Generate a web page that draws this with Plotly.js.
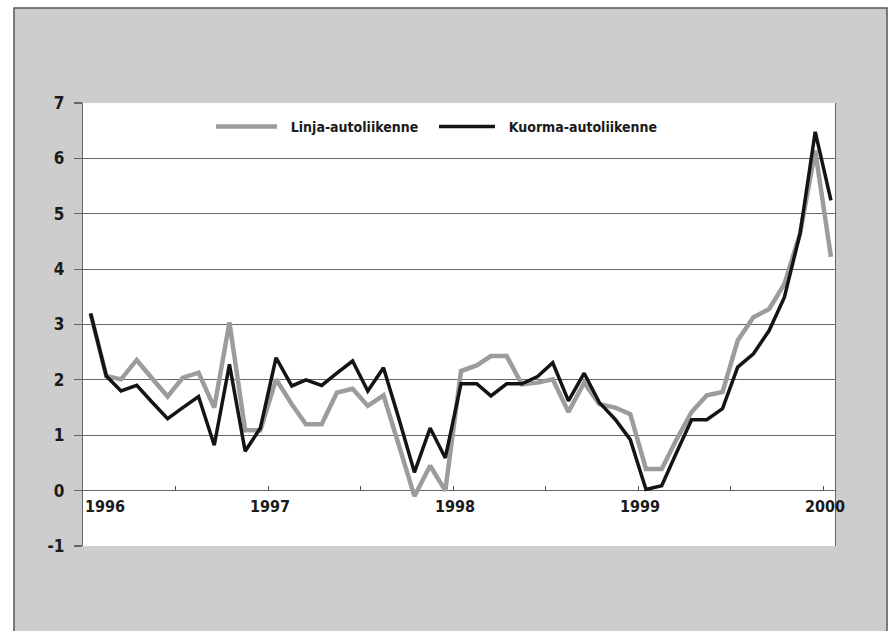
<!DOCTYPE html>
<html>
<head>
<meta charset="utf-8">
<script src="https://cdn.plot.ly/plotly-3.0.1.min.js"></script>
<style>html,body{margin:0;padding:0;background:#fff;}#chart{width:891px;height:631px;}</style>
</head>
<body>
<div id="chart"></div>
<script>
// Monthly data, Jan 1996 .. Jan 2000
var startYear = 1996;
var monthCount = 49;
var linjaName = "Linja-autoliikenne";
var kuormaName = "Kuorma-autoliikenne";
var linja = [3.2, 2.07, 2.01, 2.36, 2.03, 1.70, 2.04, 2.13, 1.50, 3.04, 1.09, 1.09,
             2.01, 1.56, 1.20, 1.20, 1.77, 1.84, 1.53, 1.72, 0.80, -0.10, 0.45, 0.0,
             2.16, 2.26, 2.43, 2.43, 1.92, 1.95, 2.01, 1.42, 1.95, 1.56, 1.50, 1.38,
             0.39, 0.39, 0.90, 1.42, 1.72, 1.78, 2.71, 3.13, 3.28, 3.73, 4.64, 6.14,
             4.22];
var kuorma = [3.2, 2.07, 1.8, 1.9, 1.6, 1.3, 1.5, 1.7, 0.82, 2.28, 0.71, 1.13,
              2.4, 1.89, 2.0, 1.9, 2.12, 2.34, 1.8, 2.22, 1.28, 0.33, 1.13, 0.59,
              1.93, 1.93, 1.71, 1.93, 1.93, 2.06, 2.31, 1.62, 2.12, 1.59, 1.29, 0.92,
              0.02, 0.09, 0.66, 1.28, 1.28, 1.48, 2.23, 2.47, 2.89, 3.49, 4.64, 6.48,
              5.24];
var yearLabels = ["1996", "1997", "1998", "1999", "2000"];
var yTickVals = [-1, 0, 1, 2, 3, 4, 5, 6, 7];
var yTickText = ["-1", "0", "1", "2", "3", "4", "5", "6", "7"];
var halfYearTicks = ["1996-07-01", "1997-01-01", "1997-07-01", "1998-01-01", "1998-07-01",
                     "1999-01-01", "1999-07-01", "2000-01-01"];

function pad(n){ return (n < 10 ? "0" : "") + n; }
var months = [];
for (var i = 0; i < monthCount; i++) {
  var y = startYear + Math.floor(i / 12);
  var m = (i % 12) + 1;
  months.push(y + "-" + pad(m) + "-16");
}

var FONT = "DejaVu Sans Condensed, Liberation Sans Narrow, sans-serif";
var NB = "\u00a0\u00a0";

var traces = [
  {x: months, y: linja, name: NB + linjaName, type: "scatter", mode: "lines",
   legend: "legend",
   line: {color: "#9c9c9c", width: 4.5}},
  {x: months, y: kuorma, name: NB + kuormaName, type: "scatter", mode: "lines",
   legend: "legend2",
   line: {color: "#141414", width: 3.5}}
];

var annotations = yearLabels.map(function (t, k) {
  return {
    x: t + "-01-01", y: 0, xref: "x", yref: "y",
    text: t, showarrow: false,
    xanchor: k === 0 ? "left" : "center", yanchor: "top",
    xshift: k === 0 ? 0 : 2, yshift: -4,
    font: {family: FONT, size: 16, color: "#1a1a1a", weight: "bold"}
  };
});

var L = 83, R = 835, T = 103, B = 546, W = 891, H = 631;
var pw = R - L, ph = B - T;

var legendFont = {family: FONT, size: 14, color: "#1a1a1a", weight: "bold"};

var layout = {
  width: W, height: H,
  margin: {l: L, r: W - R, t: T, b: H - B, pad: 0},
  paper_bgcolor: "#ffffff",
  plot_bgcolor: "#ffffff",
  showlegend: true,
  legend: {
    orientation: "h", x: (211 - L) / pw, xanchor: "left", y: 0.946, yanchor: "middle",
    bgcolor: "rgba(0,0,0,0)", borderwidth: 0, itemwidth: 61, font: legendFont
  },
  legend2: {
    orientation: "h", x: (434 - L) / pw, xanchor: "left", y: 0.946, yanchor: "middle",
    bgcolor: "rgba(0,0,0,0)", borderwidth: 0, itemwidth: 56, font: legendFont
  },
  xaxis: {
    type: "date", range: ["1996-01-01", "2000-01-24"],
    anchor: "free", position: 0.125,
    showgrid: false, zeroline: false, showline: false,
    ticks: "inside", ticklen: 5, tickwidth: 1, tickcolor: "#555",
    tickmode: "array", tickvals: halfYearTicks, showticklabels: false,
    fixedrange: true
  },
  yaxis: {
    range: [-1, 7], tickmode: "array", tickvals: yTickVals, ticktext: yTickText,
    showgrid: true, gridcolor: "#666", gridwidth: 1.2,
    zeroline: false, showline: true, mirror: true, linecolor: "#666", linewidth: 1.2,
    ticks: "outside", ticklen: 8, tickcolor: "#666", tickwidth: 1.2,
    ticklabelstandoff: 6,
    tickfont: {family: FONT, size: 17, color: "#1a1a1a", weight: "bold"},
    fixedrange: true
  },
  shapes: [
    {type: "rect", xref: "paper", yref: "paper", layer: "below",
     x0: (14 - L) / pw, x1: (887 - L) / pw, y0: (B - 660) / ph, y1: (B - 8) / ph,
     fillcolor: "#cdcdcd", line: {color: "#555", width: 1.5}},
    {type: "rect", xref: "paper", yref: "paper", layer: "below",
     x0: 0, x1: 1, y0: 0, y1: 1, fillcolor: "#ffffff", line: {width: 0}}
  ],
  annotations: annotations
};

Plotly.newPlot("chart", traces, layout, {displayModeBar: false, staticPlot: true});
</script>
</body>
</html>
